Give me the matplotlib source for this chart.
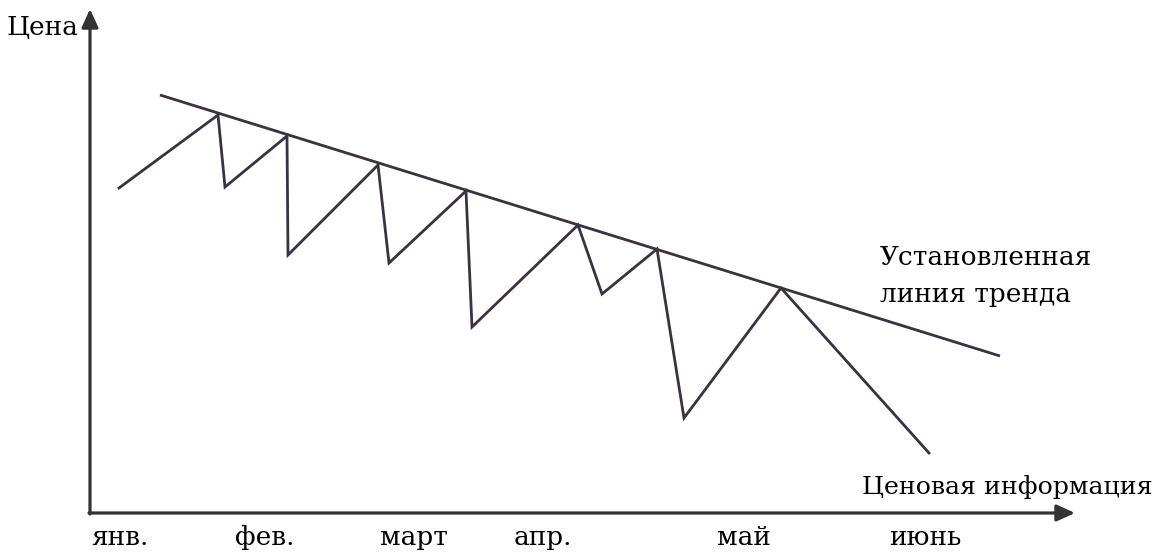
import matplotlib.pyplot as plt

# price path (x = time units from the origin, y = price units above the time axis)
price_x = [29, 128, 135, 197, 198, 288, 299, 376, 382, 488, 512, 567, 594, 691, 839]
price_y = [325, 398, 326, 377, 258, 348, 250, 322, 186, 288, 219, 264, 95, 225, 60]

# established trend line
trend_x = [70, 910]
trend_y = [418, 157]

months = ["янв.", "фев.", "март", "апр.", "май", "июнь"]
month_pos = [30, 175, 324, 453, 654, 835]

line_color = "#3b3240"
axis_color = "#333333"
font = "DejaVu Serif"

fig = plt.figure(figsize=(11.6, 5.55), dpi=100)
ax = fig.add_axes([0, 0, 1, 1])
ax.set_xlim(-90, 1070)
ax.set_ylim(-42, 513)
ax.axis("off")

# axes with arrow heads
arrow = dict(arrowstyle="-|>,head_length=11,head_width=5", mutation_scale=1,
             lw=2.3, color=axis_color, shrinkA=0, shrinkB=0)
ax.annotate("", xy=(0, 504), xytext=(0, -1), arrowprops=arrow)
ax.annotate("", xy=(985, 0), xytext=(-1, 0), arrowprops=arrow)

ax.plot(trend_x, trend_y, color=line_color, lw=2, solid_capstyle="butt")
ax.plot(price_x, price_y, color=line_color, lw=2, solid_joinstyle="miter")

# texts
ax.text(-83, 478, "Цена", family=font, fontsize=19, va="baseline", ha="left")
ax.text(790, 248, "Установленная", family=font, fontsize=19, va="baseline", ha="left")
ax.text(790, 211, "линия тренда", family=font, fontsize=19, va="baseline", ha="left")
ax.text(772, 19, "Ценовая информация", family=font, fontsize=18.2, va="baseline", ha="left")

for m, x in zip(months, month_pos):
    ax.text(x, -32, m, family=font, fontsize=19, va="baseline", ha="center")

fig.savefig("out.png", dpi=100)
